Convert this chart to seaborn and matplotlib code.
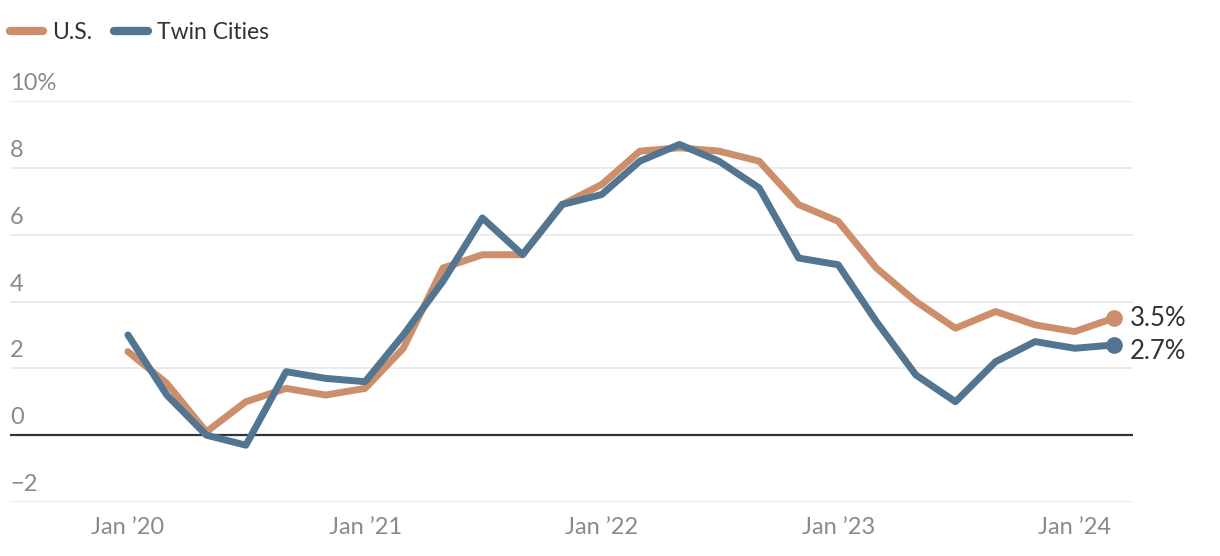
import pandas as pd
import matplotlib
matplotlib.use("Agg")
import matplotlib.pyplot as plt
import seaborn as sns

# bimonthly readings, Jan 2020 .. Mar 2024
dates = pd.date_range("2020-01-01", "2024-03-01", freq="2MS")
us = [2.5, 1.55, 0.1, 1.0, 1.4, 1.2, 1.4, 2.6, 5.0, 5.4, 5.4, 6.9, 7.5,
      8.5, 8.6, 8.5, 8.2, 6.9, 6.4, 5.0, 4.0, 3.2, 3.7, 3.3, 3.1, 3.5]
twin_cities = [3.0, 1.2, 0.0, -0.3, 1.9, 1.7, 1.6, 3.0, 4.6, 6.5, 5.4, 6.9, 7.2,
               8.2, 8.7, 8.2, 7.4, 5.3, 5.1, 3.4, 1.8, 1.0, 2.2, 2.8, 2.6, 2.7]
y_ticks = [-2, 0, 2, 4, 6, 8, 10]
y_labels = ["\u22122", "0", "2", "4", "6", "8", "10%"]
x_ticks = pd.to_datetime(["2020-01-01", "2021-01-01", "2022-01-01", "2023-01-01", "2024-01-01"])
x_labels = ["Jan \u201920", "Jan \u201921", "Jan \u201922", "Jan \u201923", "Jan \u201924"]

colors = {"U.S.": "#cd8f6b", "Twin Cities": "#527591"}

df = pd.concat([
    pd.DataFrame({"date": dates, "value": us, "series": "U.S."}),
    pd.DataFrame({"date": dates, "value": twin_cities, "series": "Twin Cities"}),
])

sns.set_style("white")
plt.rcParams["font.family"] = ["Lato", "DejaVu Sans"]

fig = plt.figure(figsize=(12.2, 5.56), dpi=100)
ax = fig.add_axes([10 / 1220, 1 - 502 / 556, 1123 / 1220, 401 / 556])

sns.lineplot(data=df, x="date", y="value", hue="series", palette=colors,
             linewidth=5, ax=ax, legend=True, solid_capstyle="round")

ax.set_ylim(-2, 10)
ax.set_xlim(pd.Timestamp("2019-07-03"), pd.Timestamp("2024-03-31"))
for ln in ax.lines:
    ln.set_clip_on(False)

for v in y_ticks:
    if v == 0:
        ax.axhline(0, color="#333333", lw=1.6, zorder=1)
    else:
        ax.axhline(v, color="#ebebeb", lw=1.4, zorder=0)
for v, lab in zip(y_ticks, y_labels):
    ax.annotate(lab, xy=(0, v), xycoords=("axes fraction", "data"),
                xytext=(0, 5), textcoords="offset points",
                ha="left", va="bottom", fontsize=17, color="#8a8a8a")

ax.set_yticks([])
ax.set_xticks(x_ticks)
ax.set_xticklabels(x_labels, fontsize=17, color="#8a8a8a")
ax.tick_params(axis="x", length=0, pad=11)
ax.set_xlabel("")
ax.set_ylabel("")
sns.despine(ax=ax, left=True, bottom=True)

# end markers and labels (nudged apart so they don't collide)
last = dates[-1]
for name, vals, dy in [("U.S.", us, 0), ("Twin Cities", twin_cities, -5)]:
    ax.plot(last, vals[-1], "o", color=colors[name], markersize=11, clip_on=False, zorder=5)
    ax.annotate(f"{vals[-1]:.1f}%", xy=(last, vals[-1]), xytext=(12, dy),
                textcoords="offset points", va="center", ha="left",
                fontsize=18.5, color="#333333", annotation_clip=False)

leg = ax.legend(loc="upper left", bbox_to_anchor=(0, 1.197), ncol=2, frameon=False,
                fontsize=16.5, handlelength=1.45, handletextpad=0.4, columnspacing=0.95,
                borderaxespad=0, borderpad=0)
for h in leg.get_lines():
    h.set_linewidth(6)
    h.set_solid_capstyle("round")
for t in leg.get_texts():
    t.set_color("#333333")

fig.savefig("out.png", dpi=100)
